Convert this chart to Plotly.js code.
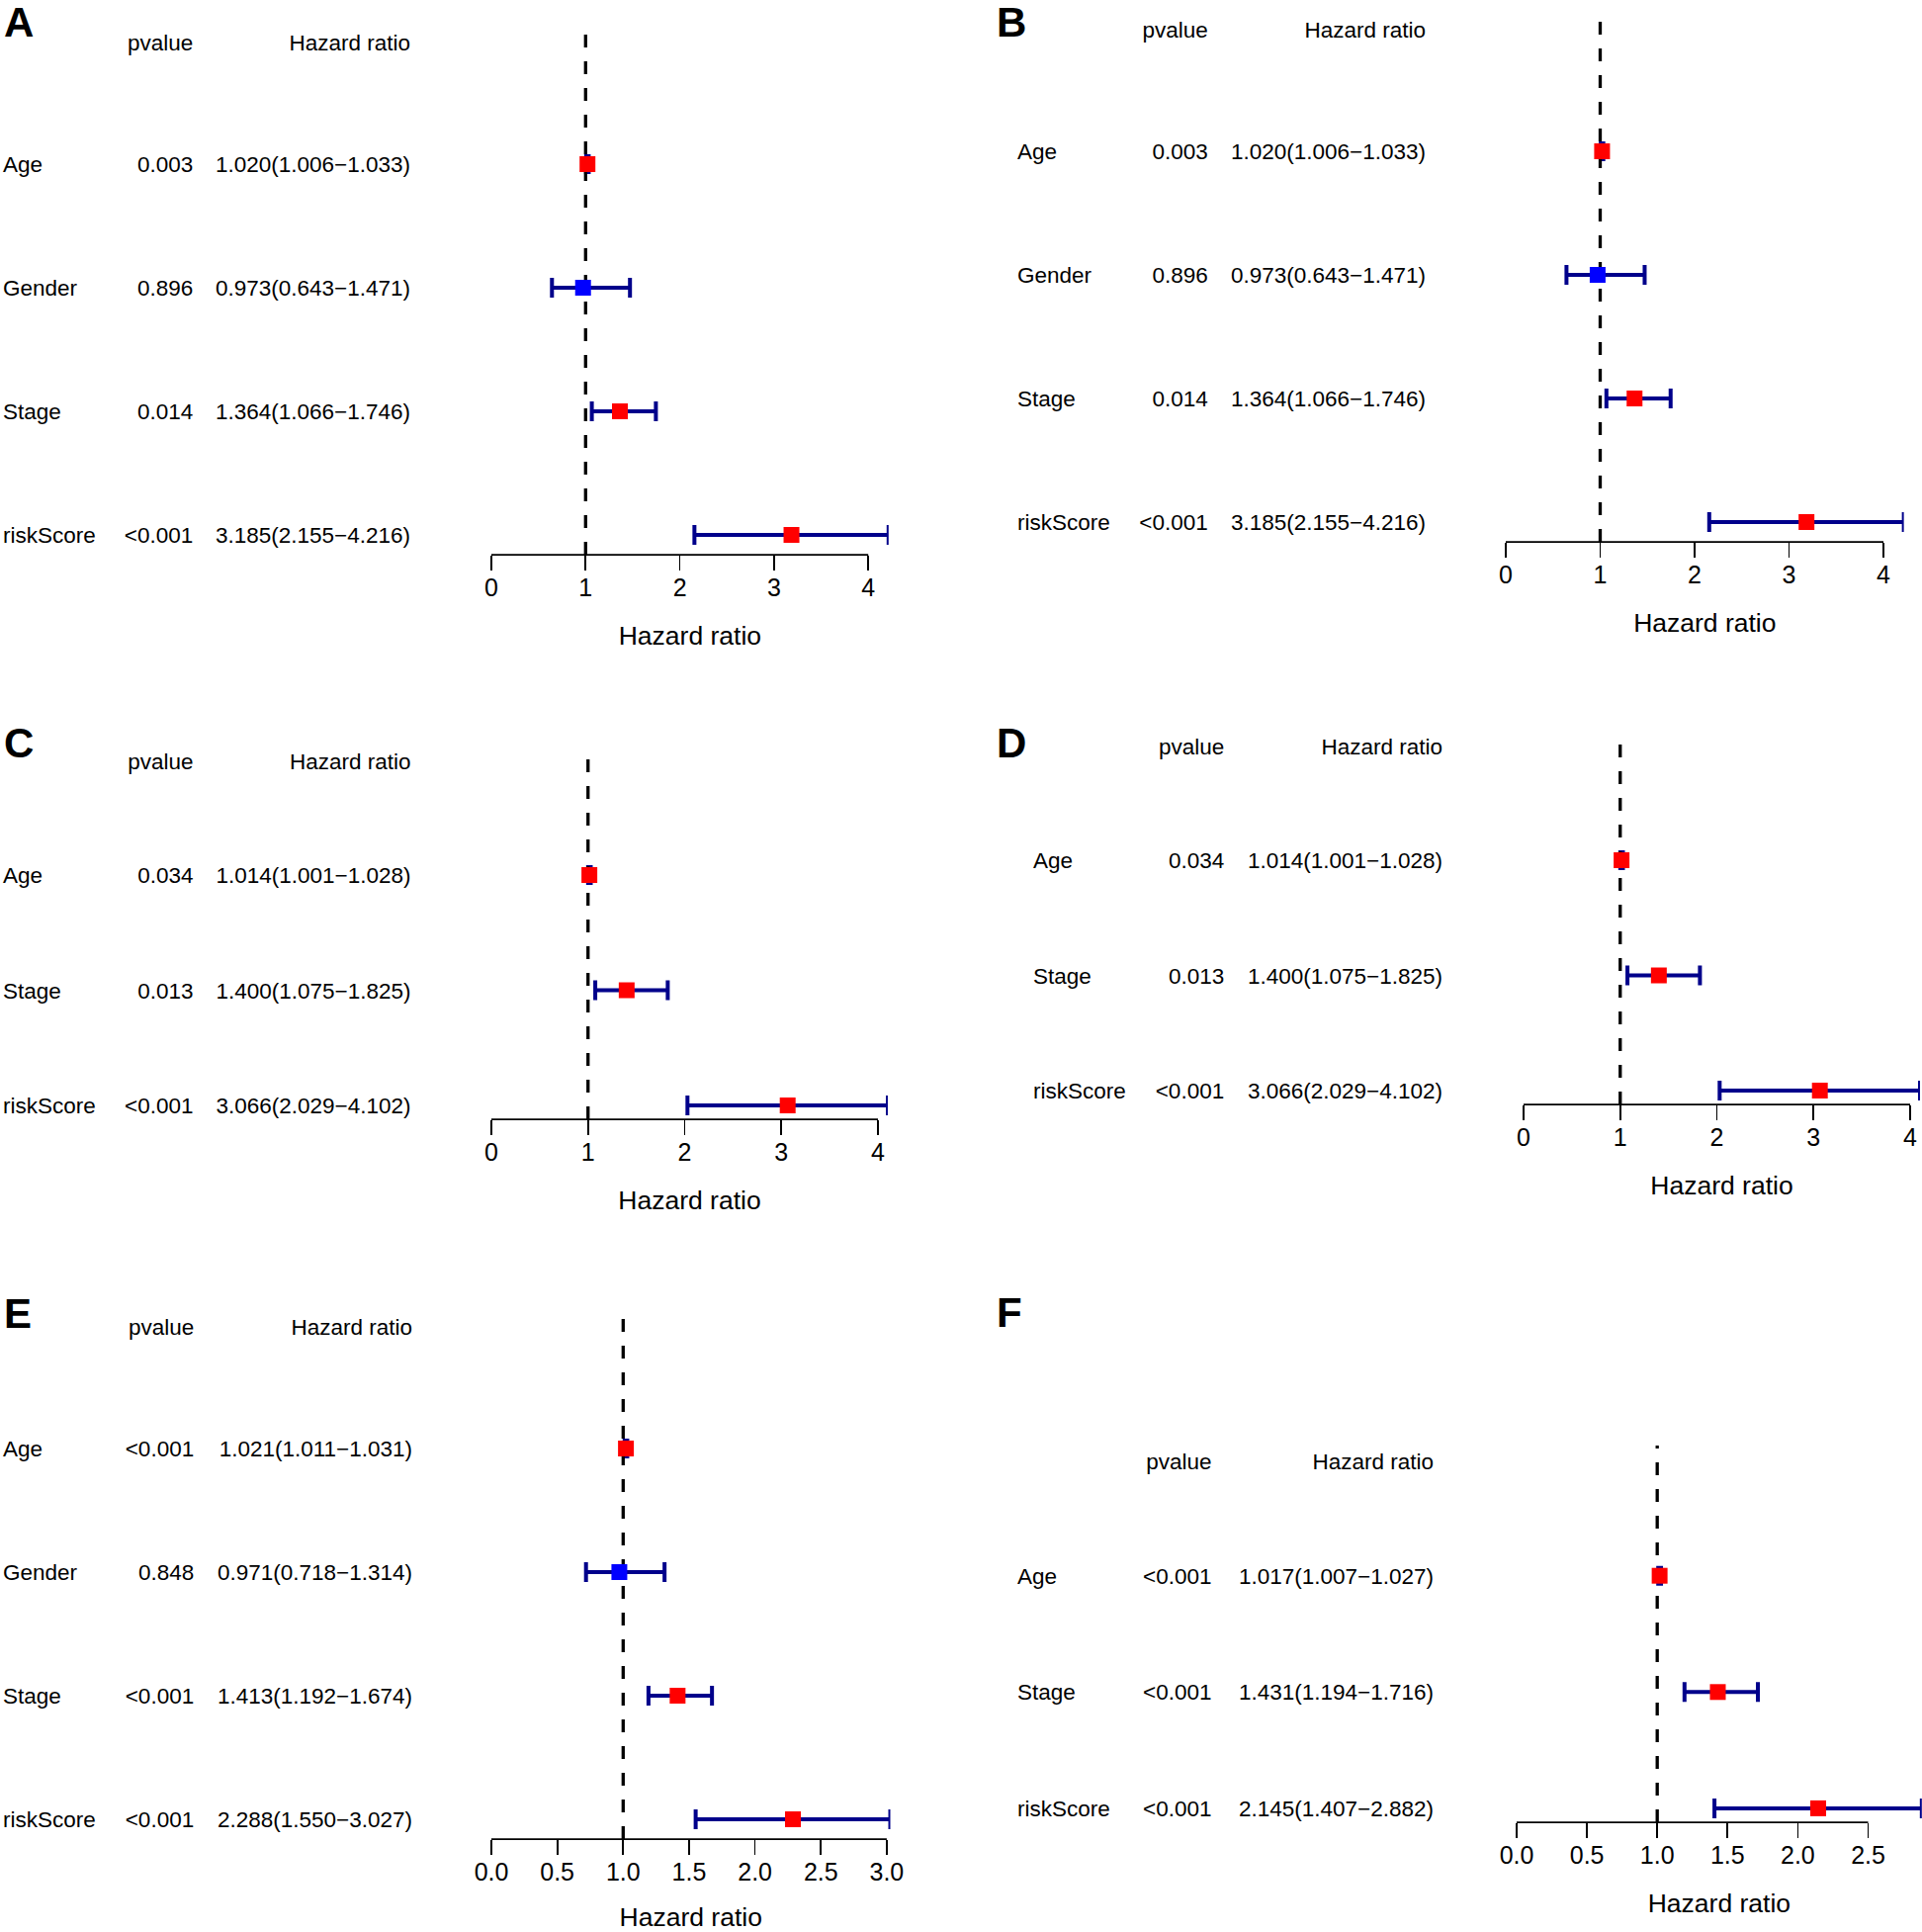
<!DOCTYPE html>
<html>
<head>
<meta charset="utf-8">
<script src="https://cdn.plot.ly/plotly-3.0.1.min.js"></script>
<style>
  html, body { margin: 0; padding: 0; background: #fff; }
  #chart { width: 1944px; height: 1954px; }
</style>
</head>
<body>
<div id="chart"></div>
<script>
// ---- data ----
let varsA = ['Age', 'Gender', 'Stage', 'riskScore'];
let pvalA = ['0.003', '0.896', '0.014', '<0.001'];
let hrA = [1.020, 0.973, 1.364, 3.185];
let lowA = [1.006, 0.643, 1.066, 2.155];
let highA = [1.033, 1.471, 1.746, 4.216];

let varsB = ['Age', 'Gender', 'Stage', 'riskScore'];
let pvalB = ['0.003', '0.896', '0.014', '<0.001'];
let hrB = [1.020, 0.973, 1.364, 3.185];
let lowB = [1.006, 0.643, 1.066, 2.155];
let highB = [1.033, 1.471, 1.746, 4.216];

let varsC = ['Age', 'Stage', 'riskScore'];
let pvalC = ['0.034', '0.013', '<0.001'];
let hrC = [1.014, 1.400, 3.066];
let lowC = [1.001, 1.075, 2.029];
let highC = [1.028, 1.825, 4.102];

let varsD = ['Age', 'Stage', 'riskScore'];
let pvalD = ['0.034', '0.013', '<0.001'];
let hrD = [1.014, 1.400, 3.066];
let lowD = [1.001, 1.075, 2.029];
let highD = [1.028, 1.825, 4.102];

let varsE = ['Age', 'Gender', 'Stage', 'riskScore'];
let pvalE = ['<0.001', '0.848', '<0.001', '<0.001'];
let hrE = [1.021, 0.971, 1.413, 2.288];
let lowE = [1.011, 0.718, 1.192, 1.550];
let highE = [1.031, 1.314, 1.674, 3.027];

let varsF = ['Age', 'Stage', 'riskScore'];
let pvalF = ['<0.001', '<0.001', '<0.001'];
let hrF = [1.017, 1.431, 2.145];
let lowF = [1.007, 1.194, 1.407];
let highF = [1.027, 1.716, 2.882];

let ticksInt = [0, 1, 2, 3, 4];
let ticksIntText = ['0', '1', '2', '3', '4'];
let ticksE = [0, 0.5, 1, 1.5, 2, 2.5, 3];
let ticksEText = ['0.0', '0.5', '1.0', '1.5', '2.0', '2.5', '3.0'];
let ticksF = [0, 0.5, 1, 1.5, 2, 2.5];
let ticksFText = ['0.0', '0.5', '1.0', '1.5', '2.0', '2.5'];

const W = 1944, H = 1954;
const FONT = 'Liberation Sans, Arial, Helvetica, sans-serif';
const ROW_NUDGE = 2.5, HEAD_NUDGE = 4;   // px, text sits a bit lower in R

// where each panel sits on the page (px)
let panels = [
  {letter: 'A', vars: varsA, p: pvalA, hr: hrA, lo: lowA, hi: highA, tv: ticksInt, tt: ticksIntText,
   lx: 2, ly: 22, textL: 3, textR: 415, plotL: 497, unit: 95.3, top: 21, bottom: 561},
  {letter: 'B', vars: varsB, p: pvalB, hr: hrB, lo: lowB, hi: highB, tv: ticksInt, tt: ticksIntText,
   lx: 1006, ly: 22, textL: 1029, textR: 1442, plotL: 1523, unit: 95.5, top: 8, bottom: 548},
  {letter: 'C', vars: varsC, p: pvalC, hr: hrC, lo: lowC, hi: highC, tv: ticksInt, tt: ticksIntText,
   lx: 2, ly: 752, textL: 3, textR: 415.5, plotL: 497, unit: 97.75, top: 754.5, bottom: 1132},
  {letter: 'D', vars: varsD, p: pvalD, hr: hrD, lo: lowD, hi: highD, tv: ticksInt, tt: ticksIntText,
   lx: 1006, ly: 752, textL: 1045, textR: 1459, plotL: 1541, unit: 97.75, top: 739.5, bottom: 1117},
  {letter: 'E', vars: varsE, p: pvalE, hr: hrE, lo: lowE, hi: highE, tv: ticksE, tt: ticksEText,
   lx: 2, ly: 1328, textL: 3, textR: 417, plotL: 497, unit: 133.3, top: 1320, bottom: 1860},
  {letter: 'F', vars: varsF, p: pvalF, hr: hrF, lo: lowF, hi: highF, tv: ticksF, tt: ticksFText,
   lx: 1006, ly: 1327, textL: 1029, textR: 1450, plotL: 1534, unit: 142.2, top: 1462, bottom: 1843}
];

let traces = [];
let layout = {
  width: W, height: H,
  margin: {l: 0, r: 0, t: 0, b: 0},
  paper_bgcolor: '#fff', plot_bgcolor: 'rgba(0,0,0,0)',
  showlegend: false,
  font: {family: FONT, color: '#000'},
  shapes: [], annotations: []
};

function fmt(v) { return v.toFixed(3); }

panels.forEach(function(pn, i) {
  let n = pn.vars.length;
  let ylim = [1 - 0.04 * n, n + 1 + 0.04 * n];
  let rows = pn.vars.map(function(v, j) { return n - j; });
  let xmax = Math.max.apply(null, pn.hi);
  let kt = 2 * i + 1, kp = 2 * i + 2;   // text subplot, forest subplot
  let ydom = [1 - pn.bottom / H, 1 - pn.top / H];
  let pxPerUnit = (pn.bottom - pn.top) / (ylim[1] - ylim[0]);
  let rowY = rows.map(function(r) { return r - ROW_NUDGE / pxPerUnit; });
  let headY = n + 1 - HEAD_NUDGE / pxPerUnit;

  // text columns
  layout['xaxis' + kt] = {domain: [pn.textL / W, pn.textR / W], range: [0, 3], visible: false,
                          fixedrange: true, anchor: 'y' + kt};
  layout['yaxis' + kt] = {domain: ydom, range: ylim, visible: false, fixedrange: true, anchor: 'x' + kt};
  let tf = {family: FONT, size: 22.5, color: '#000'};
  traces.push({x: rows.map(function() { return 0; }), y: rowY, text: pn.vars, mode: 'text',
               textposition: 'middle right', textfont: tf, xaxis: 'x' + kt, yaxis: 'y' + kt,
               cliponaxis: false, hoverinfo: 'skip'});
  traces.push({x: rows.map(function() { return 1.4; }).concat([1.4]), y: rowY.concat([headY]),
               text: pn.p.concat(['pvalue']), mode: 'text',
               textposition: 'middle left', textfont: tf, xaxis: 'x' + kt, yaxis: 'y' + kt,
               cliponaxis: false, hoverinfo: 'skip'});
  let hrText = pn.hr.map(function(h, j) {
    return fmt(h) + '(' + fmt(pn.lo[j]) + '\u2212' + fmt(pn.hi[j]) + ')';
  });
  traces.push({x: rows.map(function() { return 3; }).concat([3]), y: rowY.concat([headY]),
               text: hrText.concat(['Hazard ratio']), mode: 'text',
               textposition: 'middle left', textfont: tf, xaxis: 'x' + kt, yaxis: 'y' + kt,
               cliponaxis: false, hoverinfo: 'skip'});

  // forest plot
  let right = Math.min(W, pn.plotL + xmax * pn.unit);
  layout['xaxis' + kp] = {
    domain: [pn.plotL / W, right / W], range: [0, xmax], anchor: 'y' + kp, fixedrange: true,
    showgrid: false, zeroline: false, showline: false,
    ticks: 'outside', ticklen: 15, tickwidth: 1.75, tickcolor: '#000', ticklabelstandoff: -4,
    tickmode: 'array', tickvals: pn.tv, ticktext: pn.tt,
    tickfont: {family: FONT, size: 25, color: '#000'},
    title: {text: 'Hazard ratio', font: {family: FONT, size: 26.5, color: '#000'}, standoff: 26}
  };
  layout['yaxis' + kp] = {domain: ydom, range: ylim, visible: false, fixedrange: true, anchor: 'x' + kp};
  // axis line only across the tick range, like R's axis()
  layout.shapes.push({type: 'line', xref: 'x' + kp, yref: 'y' + kp + ' domain',
                      x0: pn.tv[0], x1: pn.tv[pn.tv.length - 1], y0: 0, y1: 0,
                      line: {color: '#000', width: 1.75}});

  traces.push({x: pn.hr, y: rows, mode: 'markers', marker: {size: 2, opacity: 0},
               error_x: {type: 'data', symmetric: false,
                         array: pn.hi.map(function(v, j) { return v - pn.hr[j]; }),
                         arrayminus: pn.lo.map(function(v, j) { return pn.hr[j] - v; }),
                         color: '#00008B', thickness: 4, width: 10},
               xaxis: 'x' + kp, yaxis: 'y' + kp, cliponaxis: false, hoverinfo: 'skip'});
  traces.push({x: [1, 1], y: [ylim[0], ylim[1]], mode: 'lines',
               line: {color: '#000', width: 3.3, dash: '13px,14px'},
               xaxis: 'x' + kp, yaxis: 'y' + kp, cliponaxis: false, hoverinfo: 'skip'});
  traces.push({x: pn.hr, y: rows, mode: 'markers',
               marker: {symbol: 'square', size: 16, line: {width: 0},
                        color: pn.hr.map(function(h) { return h > 1 ? '#FF0000' : '#0000FF'; })},
               xaxis: 'x' + kp, yaxis: 'y' + kp, cliponaxis: false});

  layout.annotations.push({text: '<b>' + pn.letter + '</b>', xref: 'paper', yref: 'paper',
                           x: pn.lx / W, y: 1 - pn.ly / H, xanchor: 'left', yanchor: 'middle',
                           showarrow: false, font: {family: FONT, size: 42, color: '#000'}});
});

Plotly.newPlot('chart', traces, layout, {staticPlot: true});
</script>
</body>
</html>
